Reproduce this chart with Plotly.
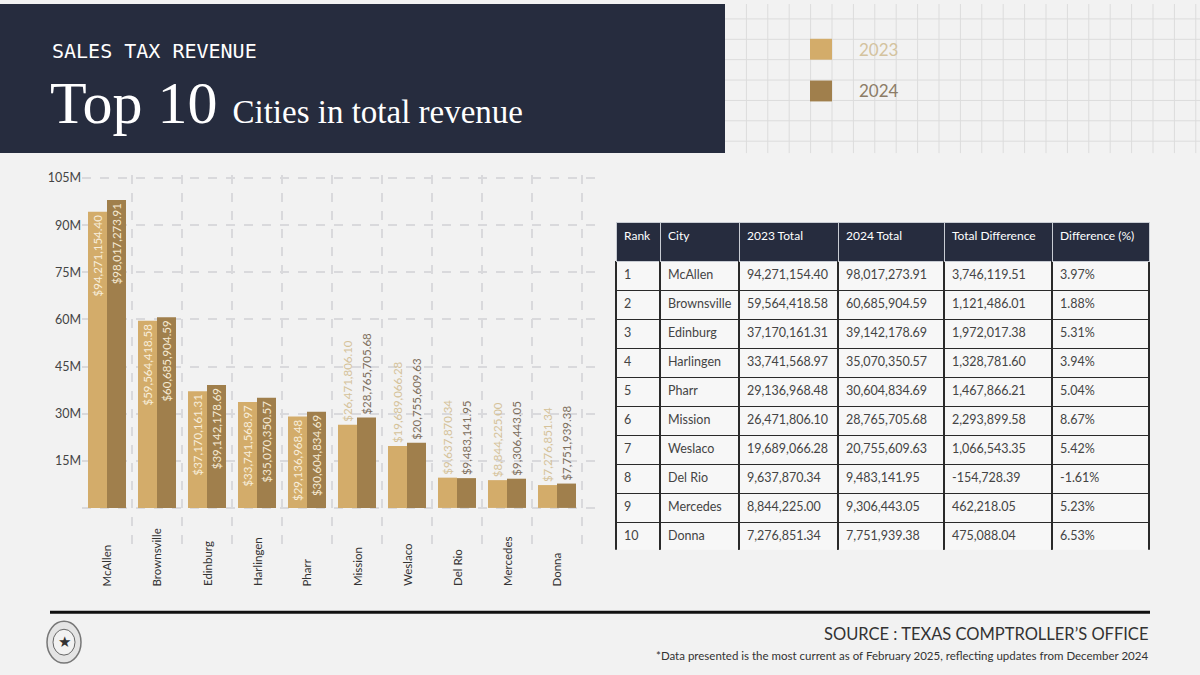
import plotly.graph_objects as go

# Data
cities = ["McAllen", "Brownsville", "Edinburg", "Harlingen", "Pharr",
          "Mission", "Weslaco", "Del Rio", "Mercedes", "Donna"]
ranks = list(range(1, 11))
total_2023 = [94271154.40, 59564418.58, 37170161.31, 33741568.97, 29136968.48,
              26471806.10, 19689066.28, 9637870.34, 8844225.00, 7276851.34]
total_2024 = [98017273.91, 60685904.59, 39142178.69, 35070350.57, 30604834.69,
              28765705.68, 20755609.63, 9483141.95, 9306443.05, 7751939.38]
total_diff = [3746119.51, 1121486.01, 1972017.38, 1328781.60, 1467866.21,
              2293899.58, 1066543.35, -154728.39, 462218.05, 475088.04]
diff_pct = [3.97, 1.88, 5.31, 3.94, 5.04, 8.67, 5.42, -1.61, 5.23, 6.53]
y_ticks = [0, 15e6, 30e6, 45e6, 60e6, 75e6, 90e6, 105e6]
y_tick_labels = ["", "15M", "30M", "45M", "60M", "75M", "90M", "105M"]
table_headers = ["Rank", "City", "2023 Total", "2024 Total", "Total Difference", "Difference (%)"]

# Style
W, H = 1200, 675
BG = "#f2f2f2"
NAVY = "#262c3e"
GOLD_23 = "#d3ac6a"
GOLD_24 = "#a07f4c"
FONT = "Lato"


def px(x):
    return x / W


def py(y):
    return 1 - y / H


def money(v):
    return f"${v:,.2f}"


fig = go.Figure()

# text inside tall bars, above short ones
pos_23 = ["inside" if v > 29e6 else "outside" for v in total_2023]
pos_24 = ["inside" if v > 29e6 else "outside" for v in total_2024]

fig.add_trace(go.Bar(
    x=cities, y=total_2023, name="2023", marker=dict(color=GOLD_23, line=dict(width=0)),
    text=[money(v) for v in total_2023], textposition=pos_23, textangle=-90,
    insidetextanchor="end", cliponaxis=False, constraintext="none",
    insidetextfont=dict(family=FONT, size=11.5, color="#f8eedb"),
    outsidetextfont=dict(family=FONT, size=11.5, color="#d5c29a"),
))
fig.add_trace(go.Bar(
    x=cities, y=total_2024, name="2024", marker=dict(color=GOLD_24, line=dict(width=0)),
    text=[money(v) for v in total_2024], textposition=pos_24, textangle=-90,
    insidetextanchor="end", cliponaxis=False, constraintext="none",
    insidetextfont=dict(family=FONT, size=11.5, color="#f6ead3"),
    outsidetextfont=dict(family=FONT, size=11.5, color="#7d6e5c"),
))

# Table
fig.add_trace(go.Table(
    domain=dict(x=[px(616), px(1149)], y=[py(549), py(220)]),
    columnwidth=[44, 79, 99, 106, 108, 97],
    header=dict(values=table_headers, fill_color=NAVY,
                line=dict(color="#c8ccd3", width=1),
                font=dict(family=FONT, size=12, color="white"),
                align="left", height=39),
    cells=dict(values=[ranks, cities,
                       [f"{v:,.2f}" for v in total_2023],
                       [f"{v:,.2f}" for v in total_2024],
                       [f"{v:,.2f}" for v in total_diff],
                       [f"{v:.2f}%" for v in diff_pct]],
               fill_color="#f7f7f7",
               line=dict(color="#2a2a2a", width=1.5),
               font=dict(family=FONT, size=12.5, color="#444444"),
               align="left", height=29),
))

shapes = []
# header band
shapes.append(dict(type="rect", xref="paper", yref="paper", x0=0, x1=px(725), y0=py(150), y1=1,
                   fillcolor=NAVY, line=dict(width=0), layer="below"))
# decorative grid top right
for k in range(1, 23):
    shapes.append(dict(type="line", xref="paper", yref="paper", x0=px(725 + 21.4 * k), x1=px(725 + 21.4 * k),
                       y0=py(150), y1=1, line=dict(color="#dcdcdc", width=1), layer="below"))
for k in range(7):
    shapes.append(dict(type="line", xref="paper", yref="paper", x0=px(725), x1=1,
                       y0=py(15 + 20.5 * k), y1=py(15 + 20.5 * k), line=dict(color="#dcdcdc", width=1), layer="below"))
# legend swatches
shapes.append(dict(type="rect", xref="paper", yref="paper", x0=px(810), x1=px(832), y0=py(56), y1=py(35),
                   fillcolor=GOLD_23, line=dict(width=0)))
shapes.append(dict(type="rect", xref="paper", yref="paper", x0=px(810), x1=px(832), y0=py(98), y1=py(77),
                   fillcolor=GOLD_24, line=dict(width=0)))
# footer rule
shapes.append(dict(type="line", xref="paper", yref="paper", x0=px(50), x1=px(1150), y0=py(612), y1=py(612),
                   line=dict(color="#111111", width=3)))
# seal
shapes.append(dict(type="circle", xref="paper", yref="paper", x0=px(47), x1=px(81), y0=py(663), y1=py(621),
                   line=dict(color="#777777", width=1.5), fillcolor="#e4e4e4"))
shapes.append(dict(type="circle", xref="paper", yref="paper", x0=px(53), x1=px(75), y0=py(655), y1=py(629),
                   line=dict(color="#666666", width=1), fillcolor="#f2f2f2"))

annotations = [
    dict(text="SALES TAX REVENUE", x=px(50), y=py(47), xanchor="left", yanchor="middle",
         font=dict(family="DejaVu Sans Mono", size=20, color="white")),
    dict(text="Top 10 <span style='font-size:33px'>Cities in total revenue</span>",
         x=px(48), y=py(100), xanchor="left", yanchor="middle",
         font=dict(family="Liberation Serif", size=60, color="white")),
    dict(text="2023", x=px(857), y=py(46), xanchor="left", yanchor="middle",
         font=dict(family=FONT, size=17, color="#d4c39f")),
    dict(text="2024", x=px(857), y=py(87), xanchor="left", yanchor="middle",
         font=dict(family=FONT, size=17, color="#8c7c66")),
    dict(text="★", x=px(64), y=py(642), xanchor="center", yanchor="middle",
         font=dict(family="DejaVu Sans", size=15, color="#333333")),
    dict(text="SOURCE : TEXAS COMPTROLLER’S OFFICE", x=px(1150), y=py(634), xanchor="right", yanchor="middle",
         font=dict(family=FONT, size=16.5, color="#333333")),
    dict(text="*Data presented is the most current as of February 2025, reflecting updates from December 2024",
         x=px(1150), y=py(655), xanchor="right", yanchor="middle",
         font=dict(family=FONT, size=11.5, color="#333333")),
]
# city names below the bars, bottom aligned
for c in cities:
    annotations.append(dict(text=c, x=c, xref="x", y=py(588), yanchor="bottom", xanchor="center",
                            textangle=-90, font=dict(family=FONT, size=11.5, color="#333333")))
for a in annotations:
    a.setdefault("xref", "paper")
    a.update(yref="paper", showarrow=False)

fig.update_layout(
    width=W, height=H, margin=dict(l=0, r=0, t=0, b=0),
    paper_bgcolor=BG, plot_bgcolor=BG, showlegend=False,
    barmode="group", bargap=0.24, bargroupgap=0,
    shapes=shapes, annotations=annotations,
    xaxis=dict(domain=[px(82), px(600)], type="category", range=[-0.5, 9.86],
               tickson="boundaries", showgrid=True, gridcolor="#d9d9dc", griddash="dash", gridwidth=1.5,
               showticklabels=False, ticks="", showline=False, zeroline=False),
    yaxis=dict(domain=[py(548), py(172)], range=[-13e6, 106e6],
               tickvals=y_ticks, ticktext=y_tick_labels, showgrid=True,
               gridcolor="#d9d9dc", griddash="dash", gridwidth=1.5, zeroline=False,
               showline=False, ticks="", tickfont=dict(family=FONT, size=12.5, color="#444444")),
)

fig.write_html(
    "out.html",
    config={"displayModeBar": False},
    post_script="document.body.style.margin='0';"
                "var d=document.getElementById('{plot_id}');"
                "d.style.position='absolute';d.style.top='0';d.style.left='0';",
)
